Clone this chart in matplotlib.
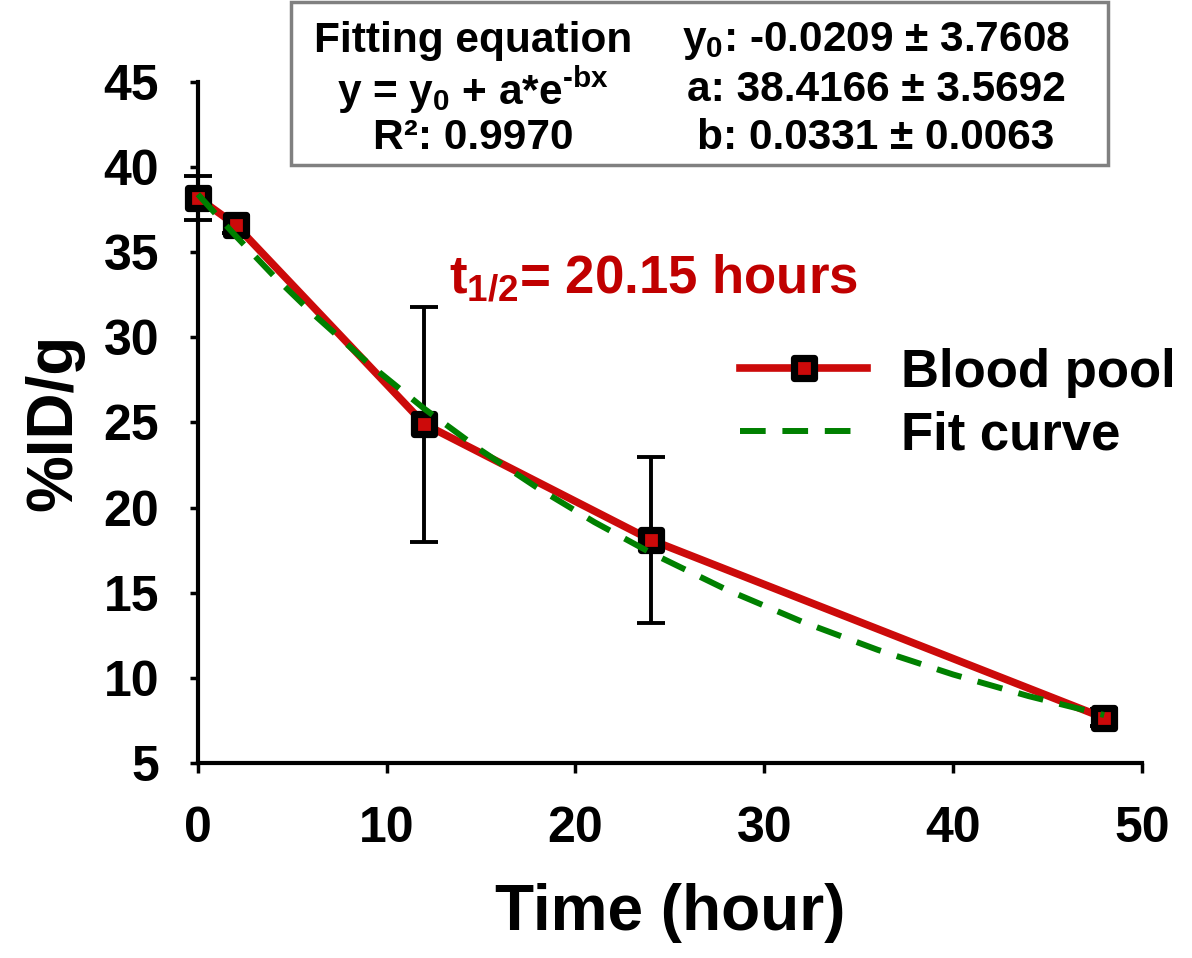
import numpy as np
from matplotlib import pyplot as plt
from matplotlib.patches import Rectangle
from matplotlib.markers import MarkerStyle

plt.rcParams['font.family'] = ['Liberation Sans', 'DejaVu Sans']
plt.rcParams['font.weight'] = 'bold'
plt.rcParams['mathtext.fontset'] = 'custom'
plt.rcParams['mathtext.rm'] = 'Liberation Sans:bold'
plt.rcParams['mathtext.it'] = 'Liberation Sans:bold'
plt.rcParams['mathtext.bf'] = 'Liberation Sans:bold'
plt.rcParams['mathtext.sf'] = 'Liberation Sans:bold'

# data
time_h = [0, 2, 12, 24, 48]
blood = [38.2, 36.6, 24.9, 18.1, 7.65]
blood_err = [1.3, 0.5, 6.9, 4.9, 0.5]

# fit curve
fit_x = [0, 2, 4, 6, 9, 12, 15, 18, 21, 24, 28, 32, 36, 40, 44, 48]
fit_y = [38.40, 35.96, 33.63, 31.48, 28.50, 25.80, 23.36, 21.15, 19.15,
         17.34, 15.18, 13.30, 11.65, 10.20, 8.93, 7.82]

xticks = [0, 10, 20, 30, 40, 50]
yticks = [5, 10, 15, 20, 25, 30, 35, 40, 45]

red = "#CC0A0A"
green = "#008000"

fig = plt.figure(figsize=(11.92, 9.58), dpi=100)
ax = fig.add_axes([0.166, 0.2035, 0.792, 0.711])

ax.errorbar(time_h, blood, yerr=blood_err, fmt="none", ecolor="black",
            elinewidth=2.8, capsize=10, capthick=2.8, zorder=2, clip_on=False)
ax.plot(time_h, blood, color=red, lw=5.5, marker=MarkerStyle("s", joinstyle="round"),
        markersize=14.5, markerfacecolor=red, markeredgecolor="black",
        markeredgewidth=5.2, solid_joinstyle="round", label="Blood pool",
        zorder=3, clip_on=False)
ax.plot(fit_x, fit_y, color=green, lw=4.3, linestyle=(0, (4.3, 2.8)),
        label="Fit curve", zorder=4, clip_on=False)

ax.set_xlim(0, 50)
ax.set_ylim(5, 45)
ax.set_xticks(xticks)
ax.set_yticks(yticks)
for s in ["top", "right"]:
    ax.spines[s].set_visible(False)
for s in ["left", "bottom"]:
    ax.spines[s].set_linewidth(3)
ax.tick_params(axis="both", direction="out", width=2.5, labelsize=36)
ax.tick_params(axis="y", length=6, pad=22)
ax.tick_params(axis="x", length=7, pad=24)

ax.set_xlabel("Time (hour)", fontsize=46, fontweight="bold", labelpad=22)
ax.set_ylabel("%ID/g", fontsize=46, fontweight="bold", labelpad=14)

fig.text(0.548, 0.71, r"$t_{1/2}$= 20.15 hours",
         color="#C00000", fontsize=38, fontweight="bold", ha="center", va="center")

leg = ax.legend(loc="upper left", bbox_to_anchor=(0.621, 0.637),
                bbox_transform=fig.transFigure, frameon=False, fontsize=38,
                handlelength=2.4, handletextpad=0.65, borderpad=0,
                borderaxespad=0, labelspacing=0.25, numpoints=1)

# fitting box
fig.add_artist(Rectangle((291 / 1192, 1 - 165 / 958), 817 / 1192, 163 / 958,
                         transform=fig.transFigure, fill=False,
                         edgecolor="#808080", lw=2.5))
c1 = 473 / 1192
c2 = 876 / 1192
rows = [1 - 41 / 958, 1 - 90 / 958, 1 - 138 / 958]
left_txt = ["Fitting equation", "y = $y_0$ + a*e$^{\u2010bx}$", "R\u00b2: 0.9970"]
right_txt = [r"$y_0$: -0.0209 ± 3.7608", "a: 38.4166 ± 3.5692",
             "b: 0.0331 ± 0.0063"]
for r, t1, t2 in zip(rows, left_txt, right_txt):
    fig.text(c1, r, t1, fontsize=30.5, fontweight="bold", ha="center", va="center")
    fig.text(c2, r, t2, fontsize=30.5, fontweight="bold", ha="center", va="center")

fig.savefig("out.png", dpi=100)
